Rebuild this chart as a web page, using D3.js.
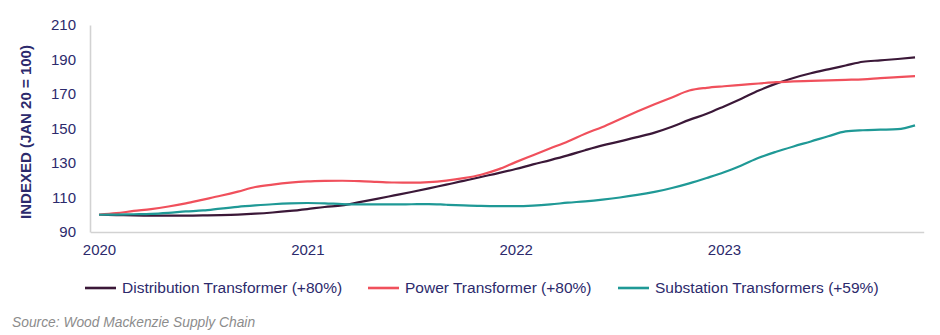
<!DOCTYPE html>
<html>
<head>
<meta charset="utf-8">
<script src="https://cdn.jsdelivr.net/npm/d3@7"></script>
<style>
  html, body { margin: 0; padding: 0; background: #fff; }
  svg { display: block; font-family: "Liberation Sans", Arial, sans-serif; }
</style>
</head>
<body>
<svg id="chart" width="940" height="335"></svg>
<script>
// Monthly index, Jan 2020 = 100 (Jan 2020 .. Dec 2023)
const years = [2020, 2021, 2022, 2023];
const months = d3.range(48).map(i => new Date(2020, i, 1));

const distribution = [
  100, 99.8, 99.6, 99.5, 99.5, 99.5, 99.6, 99.8, 100.1, 100.6, 101.3, 102.2,
  103.3, 104.5, 105.4, 107.3, 109.2, 111.2, 113.2, 115.3, 117.5, 119.6, 121.9, 124.1,
  126.5, 129.2, 131.7, 134.4, 137.4, 140.2, 142.5, 145.0, 147.6, 151.0, 155.0, 158.5,
  162.8, 167.3, 172.0, 176.0, 179.3, 182.0, 184.3, 186.5, 188.7, 189.5, 190.3, 191.2
];
const power = [
  100, 100.9, 102.2, 103.3, 104.8, 106.6, 108.8, 111.0, 113.4, 116.1, 117.5, 118.6,
  119.3, 119.6, 119.7, 119.5, 119.1, 118.7, 118.6, 118.9, 119.8, 121.2, 123.2, 126.3,
  130.5, 134.5, 138.5, 142.5, 147.0, 150.9, 155.4, 159.8, 164.0, 168.0, 172.0, 173.6,
  174.5, 175.3, 176.1, 176.9, 177.3, 177.6, 177.9, 178.2, 178.5, 179.2, 179.8, 180.4
];
const substation = [
  100, 100.1, 100.3, 100.5, 101.1, 101.9, 102.5, 103.6, 104.6, 105.4, 106.1, 106.6,
  106.8, 106.6, 106.2, 106.0, 106.0, 106.0, 106.1, 106.2, 105.8, 105.4, 105.1, 105.0,
  105.0, 105.3, 106.0, 107.0, 107.8, 108.8, 110.0, 111.5, 113.3, 115.5, 118.2, 121.3,
  124.6, 128.6, 133.0, 136.5, 139.6, 142.5, 145.5, 148.3, 149.0, 149.3, 149.6, 151.8
];

const seriesNames = [
  "Distribution Transformer (+80%)",
  "Power Transformer (+80%)",
  "Substation Transformers (+59%)"
];
const seriesColors = ["#3b1838", "#f0505c", "#1f9996"];
const yTicks = [90, 110, 130, 150, 170, 190, 210];

const series = [distribution, power, substation].map((values, k) => ({
  name: seriesNames[k],
  color: seriesColors[k],
  values: values.map((v, i) => ({ date: months[i], value: v }))
}));

const svg = d3.select("#chart");
const textColor = "#2c2a6c";
const axisColor = "#d2d2d2";

const x = d3.scalePoint()
  .domain(months.map(d => +d))
  .range([90.3, 923.7])
  .padding(0.5);
const y = d3.scaleLinear().domain([90, 210]).range([232, 25]);

// Y axis
const yAxis = svg.append("g")
  .attr("transform", "translate(90,0)")
  .call(d3.axisLeft(y).tickValues(yTicks).tickSize(0).tickPadding(14));
yAxis.select(".domain").attr("stroke", axisColor).attr("stroke-width", 1.6);
yAxis.selectAll("text")
  .attr("fill", textColor)
  .style("font-size", "15px")
  .style("font-family", "'Liberation Sans', Arial, sans-serif");

// X axis: labels at January of each year
const yearTicks = months.filter(d => d.getMonth() === 0).map(d => +d);
const xAxis = svg.append("g")
  .attr("transform", "translate(0,232)")
  .call(d3.axisBottom(x).tickValues(yearTicks).tickSize(0).tickPadding(12)
    .tickFormat(d => new Date(d).getFullYear()));
xAxis.select(".domain").attr("stroke", axisColor).attr("stroke-width", 1.6);
xAxis.selectAll("text")
  .attr("fill", textColor)
  .style("font-size", "15px")
  .style("font-family", "'Liberation Sans', Arial, sans-serif");

// Axis title
svg.append("text")
  .attr("transform", "translate(31,132) rotate(-90)")
  .attr("text-anchor", "middle")
  .attr("fill", textColor)
  .style("font-size", "15px")
  .style("font-weight", "bold")
  .text("INDEXED (JAN 20 = 100)");

// Lines
const line = d3.line()
  .x(d => x(+d.date))
  .y(d => y(d.value))
  .curve(d3.curveMonotoneX);

svg.append("g").selectAll("path")
  .data(series)
  .join("path")
  .attr("d", d => line(d.values))
  .attr("fill", "none")
  .attr("stroke", d => d.color)
  .attr("stroke-width", 2.2)
  .attr("stroke-linejoin", "round");

// Legend
const legendX = [85, 368, 618];
const legend = svg.append("g").selectAll("g")
  .data(series)
  .join("g")
  .attr("transform", (d, i) => `translate(${legendX[i]},288)`);
legend.append("line")
  .attr("x1", 0).attr("x2", 31)
  .attr("stroke", d => d.color)
  .attr("stroke-width", 2.6);
legend.append("text")
  .attr("x", 37)
  .attr("dy", "0.35em")
  .attr("fill", textColor)
  .style("font-size", "15.5px")
  .text(d => d.name);

// Source note
svg.append("text")
  .attr("x", 12)
  .attr("y", 322)
  .attr("dy", "0.35em")
  .attr("fill", "#8c8c8c")
  .style("font-size", "13.8px")
  .style("font-style", "italic")
  .text("Source: Wood Mackenzie Supply Chain");
</script>
</body>
</html>
